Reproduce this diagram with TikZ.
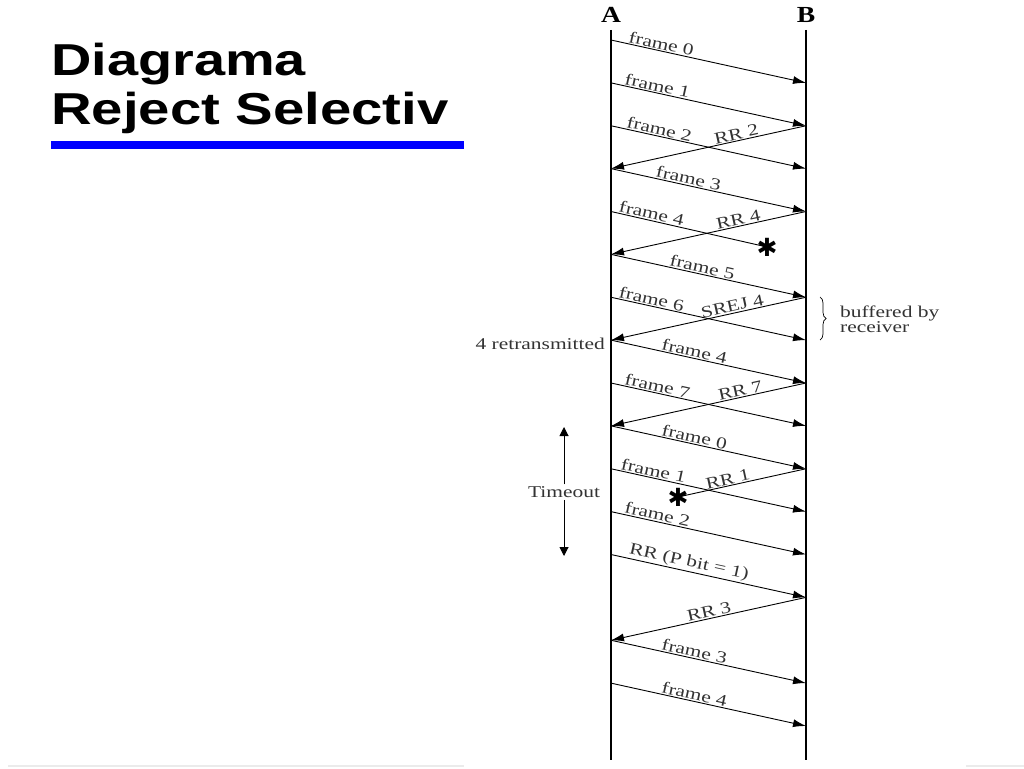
\documentclass[tikz,border=0pt]{standalone}
\usepackage{fontspec}
\usepackage{graphicx}
\setmainfont{Liberation Serif}
\newfontfamily\titlefont{Liberation Sans}
\newfontfamily\symfont{DejaVu Sans}
\newcommand{\wtext}[1]{\scalebox{1.3}[1]{#1}}
\usetikzlibrary{arrows.meta,decorations.pathreplacing}
\begin{document}
\begin{tikzpicture}[x=1pt,y=-1pt,
  msg/.style={draw=black,line width=0.9pt,-{Latex[length=13pt,width=8pt]}},
  lostmsg/.style={draw=black,line width=0.9pt},
  lab/.style={sloped,above,inner sep=1pt,text=black!80,font=\fontsize{16.5}{18}\selectfont},
  life/.style={draw=black,line width=1.3pt},
  hdr/.style={font=\fontsize{23}{26}\selectfont\bfseries},
  side/.style={text=black!80,font=\fontsize{16.5}{18}\selectfont},
  tarrow/.style={draw=black,line width=1pt,-{Triangle[length=9pt,width=9pt]}},
  lost/.style={inner sep=0pt,font=\symfont\fontsize{25}{25}\selectfont}
]
\useasboundingbox[fill=white] (0,0) rectangle (1024,768);
% title
\node[anchor=base west,inner sep=0pt] (t1) at (51,75)
  {\titlefont\bfseries\fontsize{44.7}{50}\selectfont\scalebox{1.25}[1]{Diagrama}};
\node[anchor=base west,inner sep=0pt] (t2) at (51,124)
  {\titlefont\bfseries\fontsize{44.7}{50}\selectfont\scalebox{1.26}[1]{Reject Selectiv}};
\fill[blue] (51,141) rectangle (464,149);
% faint slide edge
\draw[black!8,line width=1.5pt] (8,766) -- (464,766);
\draw[black!8,line width=1.5pt] (966,766) -- (1024,766);
% lifelines
\coordinate (Atop) at (611,30); \coordinate (Abot) at (611,760);
\coordinate (Btop) at (806,30); \coordinate (Bbot) at (806,760);
\draw[life] (Atop) -- (Abot);
\draw[life] (Btop) -- (Bbot);
\node[hdr] (hA) at (611,15) {\scalebox{1.2}[1]{A}};
\node[hdr] (hB) at (806,15) {\scalebox{1.2}[1]{B}};
\foreach \k in {0,...,16}{
  \coordinate (A\k) at (611,{40+42.875*\k});
  \coordinate (B\k) at (806,{40+42.875*\k});
}
% messages
\draw[msg] (A0) -- node[lab,pos=.25]{\wtext{frame 0}} (B1);
\draw[msg] (A1) -- node[lab,pos=.23]{\wtext{frame 1}} (B2);
\draw[msg] (A2) -- node[lab,pos=.24]{\wtext{frame 2}} (B3);
\draw[msg] (B2) -- node[lab,pos=.35]{\wtext{RR 2}} (A3);
\draw[msg] (A3) -- node[lab,pos=.39]{\wtext{frame 3}} (B4);
\node[lost] (s1) at (767,247) {✱};
\draw[lostmsg] (A4) -- node[lab,pos=.25]{\wtext{frame 4}} (s1.center);
\draw[msg] (B4) -- node[lab,pos=.34]{\wtext{RR 4}} (A5);
\draw[msg] (A5) -- node[lab,pos=.46]{\wtext{frame 5}} (B6);
\draw[msg] (A6) -- node[lab,pos=.2]{\wtext{frame 6}} (B7);
\draw[msg] (B6) -- node[lab,pos=.37]{\wtext{SREJ 4}} (A7);
\draw[msg] (A7) -- node[lab,pos=.42]{\wtext{frame 4}} (B8);
\draw[msg] (A8) -- node[lab,pos=.23]{\wtext{frame 7}} (B9);
\draw[msg] (B8) -- node[lab,pos=.33]{\wtext{RR 7}} (A9);
\draw[msg] (A9) -- node[lab,pos=.42]{\wtext{frame 0}} (B10);
\draw[msg] (A10) -- node[lab,pos=.21]{\wtext{frame 1}} (B11);
\node[lost] (s2) at (678,497) {✱};
\draw[lostmsg] (B10) -- node[lab,pos=.6]{\wtext{RR 1}} (s2.center);
\draw[msg] (A11) -- node[lab,pos=.23]{\wtext{frame 2}} (B12);
\draw[msg] (A12) -- node[lab,pos=.39]{\wtext{RR (P bit = 1)}} (B13);
\draw[msg] (B13) -- node[lab,pos=.49]{\wtext{RR 3}} (A14);
\draw[msg] (A14) -- node[lab,pos=.42]{\wtext{frame 3}} (B15);
\draw[msg] (A15) -- node[lab,pos=.42]{\wtext{frame 4}} (B16);
% side notes
\node[side,anchor=east,inner sep=1pt] (retx) at (606,344) {\wtext{4 retransmitted}};
\draw[decorate,decoration={brace,amplitude=6pt},line width=0.7pt]
  (820,297) coordinate (br1) -- (820,340) coordinate (br2);
\node[side,anchor=west,align=left,inner sep=0pt] (buf) at (840,319)
  {\wtext{buffered by}\\[-3pt]\wtext{receiver}};
\node[side,inner sep=2pt] (tmo) at (564,492) {\wtext{Timeout}};
\coordinate (ttop) at (564,427);
\coordinate (tbot) at (564,556);
\draw[tarrow] (tmo.north) -- (ttop);
\draw[tarrow] (tmo.south) -- (tbot);
\end{tikzpicture}
\end{document}
